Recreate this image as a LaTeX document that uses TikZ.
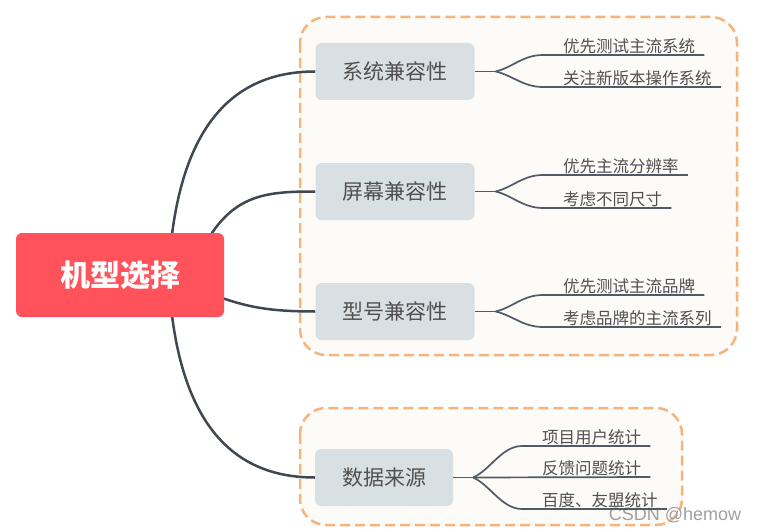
\documentclass[tikz,border=0pt]{standalone}
\usepackage{fontspec}
\newfontfamily\cjk{Noto Sans CJK SC}
\newfontfamily\wmfont{Liberation Sans}
\usetikzlibrary{calc}
\definecolor{rootred}{HTML}{FF525B}
\definecolor{boxgray}{HTML}{D9E0E3}
\definecolor{textgray}{HTML}{505050}
\definecolor{linegray}{HTML}{3F4751}
\definecolor{leafline}{HTML}{515A66}
\definecolor{dashorange}{HTML}{F5B47C}
\definecolor{groupfill}{HTML}{FDFBF7}
\pgfdeclarelayer{groups}
\pgfdeclarelayer{edges}
\pgfsetlayers{groups,edges,main}
\tikzset{
    rootbox/.style={fill=rootred, rounded corners=6pt, minimum width=208pt,
        minimum height=84pt, text=white, font=\cjk\bfseries\fontsize{30}{34}\selectfont},
    topicbox/.style={fill=boxgray, rounded corners=6pt, minimum width=159pt,
        minimum height=57pt, text=textgray, font=\cjk\fontsize{21}{24}\selectfont},
    leaf/.style={anchor=south west, inner xsep=0pt, inner ysep=1pt,
        text=textgray, font=\cjk\fontsize{16.5}{19}\selectfont},
    groupbox/.style={draw=dashorange, fill=groupfill, line width=2.5pt,
        dash pattern=on 10pt off 5pt, rounded corners=26pt},
    mainline/.style={draw=linegray, line width=2.5pt},
    leafline/.style={draw=leafline, line width=1.7pt}
}
\begin{document}
\begin{tikzpicture}[x=1pt, y=-1pt]
    \useasboundingbox (0,0) rectangle (757,532);
    % groups
    \begin{pgfonlayer}{groups}
        \draw[groupbox] (300,17) rectangle (737,355);
        \draw[groupbox] (300,408) rectangle (682,525);
    \end{pgfonlayer}
    % nodes
    \node[rootbox] (root) at (120,275) {机型选择};
    \node[topicbox] (sys) at (395,71.5) {系统兼容性};
    \node[topicbox] (scr) at (395,191.5) {屏幕兼容性};
    \node[topicbox] (mod) at (395,311.5) {型号兼容性};
    \node[topicbox, minimum width=138pt] (dat) at (384,477.5) {数据来源};
    \node[leaf] (sys1) at (563,55) {优先测试主流系统};
    \node[leaf] (sys2) at (563,87) {关注新版本操作系统};
    \node[leaf] (scr1) at (563,175) {优先主流分辨率};
    \node[leaf] (scr2) at (563,208) {考虑不同尺寸};
    \node[leaf] (mod1) at (563,295) {优先测试主流品牌};
    \node[leaf] (mod2) at (563,327) {考虑品牌的主流系列};
    \node[leaf] (dat1) at (542,446) {项目用户统计};
    \node[leaf] (dat2) at (542,477) {反馈问题统计};
    \node[leaf] (dat3) at (542,509) {百度、友盟统计};
    \coordinate (sysf) at ($(sys.east)+(21,0)$);
    \coordinate (scrf) at ($(scr.east)+(21,0)$);
    \coordinate (modf) at ($(mod.east)+(21,0)$);
    \coordinate (datf) at ($(dat.east)+(20,0)$);
    \node[text=gray!75, font=\wmfont\fontsize{18}{21}\selectfont] (mark) at (675,515) {CSDN @hemow};
    % connectors
    \begin{pgfonlayer}{edges}
        \draw[mainline] ($(root.center)+(48,15)$) .. controls ($(root.center)+(52,-145)$) and (230,71.5) .. (sys.west);
        \draw[mainline] ($(root.center)+(75,-10)$) .. controls (225,195) and (260,191.5) .. (scr.west);
        \draw[mainline] ($(root.center)+(80,15)$) .. controls (240,305) and (260,311.5) .. (mod.west);
        \draw[mainline] ($(root.center)+(48,-15)$) .. controls ($(root.center)+(52,145)$) and (230,477.5) .. (dat.west);
    \end{pgfonlayer}
    \foreach \t in {sys,scr,mod,dat}{
        \draw[leafline] (\t.east) -- (\t f);
    }
    \foreach \t/\l in {sys/sys1,sys/sys2,scr/scr1,scr/scr2,mod/mod1,mod/mod2,dat/dat1,dat/dat3}{
        \draw[leafline] (\t f) .. controls ($(\t f)!0.25!(\l.south west)$) and ([xshift=-40pt]\l.south west) .. ([xshift=-20pt]\l.south west) -- ([xshift=9pt]\l.south east);
    }
    \draw[leafline] (datf) -- ([xshift=9pt]dat2.south east);
\end{tikzpicture}
\end{document}
